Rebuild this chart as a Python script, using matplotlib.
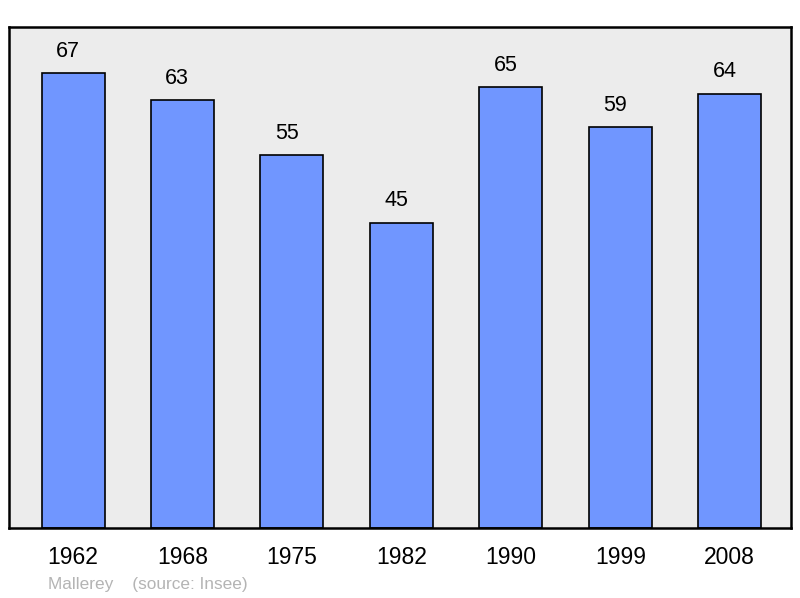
import matplotlib
matplotlib.use("Agg")
import matplotlib.pyplot as plt

years = ["1962", "1968", "1975", "1982", "1990", "1999", "2008"]
population = [67, 63, 55, 45, 65, 59, 64]

plt.rcParams['font.family'] = ['Liberation Sans', 'DejaVu Sans']

fig = plt.figure(figsize=(8, 5.98), dpi=100)
ax = fig.add_axes([9/800, 1-528/598, 782/800, 501/598])
ax.set_facecolor('#ececec')

x = list(range(len(years)))
ax.bar(x, population, width=0.576, color='#7096ff', edgecolor='black', linewidth=1.2, zorder=2)
for xi, v in zip(x, population):
    ax.annotate(str(v), (xi, v), xytext=(-3.8, 8), textcoords='offset points',
                ha='center', va='bottom', fontsize=15.5)

ax.set_xlim(-0.585, 6.56)
ax.set_ylim(0, 73.8)
ax.set_xticks(x)
ax.set_xticklabels(years, fontsize=16.5)
ax.tick_params(axis='x', length=0, pad=13)
ax.set_yticks([])
for s in ax.spines.values():
    s.set_linewidth(1.8)

fig.text(48/800, 1-584/598, "Mallerey    (source: Insee)", fontsize=12.4, color='#b4b4b4', va='center')

fig.savefig("out.png", dpi=100)
